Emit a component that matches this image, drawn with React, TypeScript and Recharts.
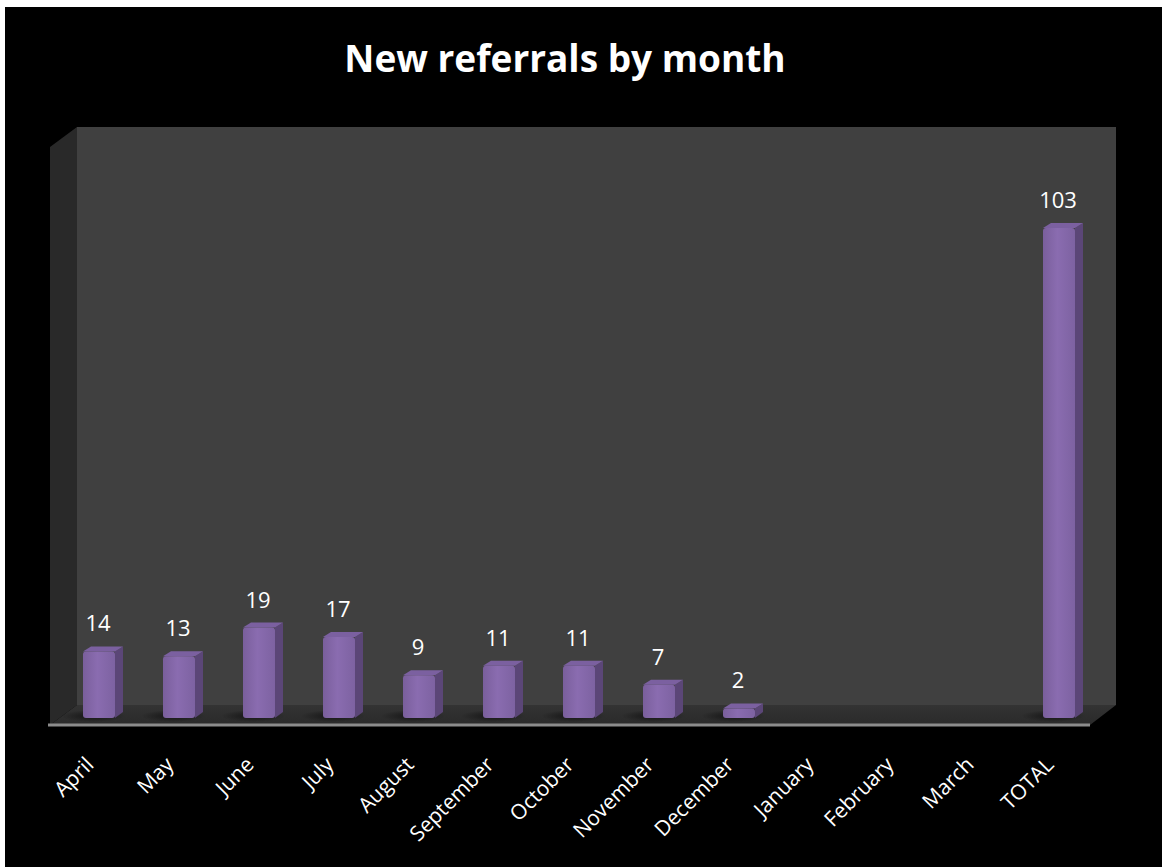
import React from "react";
import { BarChart, Bar, XAxis, YAxis, ReferenceArea, LabelList } from "recharts";

const categories = ["April", "May", "June", "July", "August", "September", "October", "November", "December", "January", "February", "March", "TOTAL"];
const referrals: (number | null)[] = [14, 13, 19, 17, 9, 11, 11, 7, 2, null, null, null, 103];
const yTicks = [0, 20, 40, 60, 80, 100, 120];
const title = "New referrals by month";

const data = categories.map((c, i) => ({ month: c, value: referrals[i] }));

const FONT = "'Open Sans', 'DejaVu Sans', sans-serif";
const DX = 8;
const DY = 5;

const Walls = (props: any) => {
  const { x, y, width, height } = props;
  const px = x, py = y, pw = width, ph = height;
  const bx0 = px + 18, bx1 = px + pw + 17, by0 = py - 20, by1 = py + ph - 13;
  const fx0 = px - 9, fx1 = px + pw - 9, fy = py + ph + 7;
  return (
    <g>
      <defs>
        <linearGradient id="barFront" x1="0" y1="0" x2="1" y2="0">
          <stop offset="0%" stopColor="#7a5f9c" />
          <stop offset="45%" stopColor="#8a6cb0" />
          <stop offset="100%" stopColor="#7d62a1" />
        </linearGradient>
        <linearGradient id="floorGrad" x1="0" y1="0" x2="0" y2="1">
          <stop offset="0%" stopColor="#333333" />
          <stop offset="100%" stopColor="#2a2a2a" />
        </linearGradient>
        <radialGradient id="shadowGrad" cx="0.5" cy="0.5" r="0.5">
          <stop offset="0%" stopColor="#000" stopOpacity="0.55" />
          <stop offset="100%" stopColor="#000" stopOpacity="0" />
        </radialGradient>
      </defs>
      <rect x={bx0} y={by0} width={bx1 - bx0} height={by1 - by0} fill="#404040" />
      <polygon points={`${fx0},${py} ${bx0},${by0} ${bx0},${by1} ${fx0},${fy}`} fill="#292929" />
      <polygon points={`${fx0},${fy} ${bx0},${by1} ${bx1},${by1} ${fx1},${fy}`} fill="url(#floorGrad)" />
      <line x1={fx0 - 2} y1={fy} x2={fx1} y2={fy} stroke="#8c8c8c" strokeWidth={3} />
    </g>
  );
};

const Bar3D = (props: any) => {
  const { x, y, width, height } = props;
  if (height == null || height <= 0 || x == null) return null;
  const r = Math.min(3, height / 2);
  return (
    <g>
      <ellipse cx={x + width / 2 - 6} cy={y + height - 2} rx={width} ry={6} fill="url(#shadowGrad)" />
      <polygon
        points={`${x + width},${y} ${x + width + DX},${y - DY} ${x + width + DX},${y + height - DY - 1} ${x + width},${y + height}`}
        fill="#5b4677"
      />
      <polygon
        points={`${x},${y} ${x + DX},${y - DY} ${x + width + DX},${y - DY} ${x + width},${y}`}
        fill="#7b60a0"
      />
      <rect x={x} y={y} width={width} height={height} rx={r} ry={r} fill="url(#barFront)" />
    </g>
  );
};

const ValueLabel = (props: any) => {
  const { x, y, width, value } = props;
  if (value == null) return null;
  return (
    <text x={x + width / 2 - 1} y={y - 20} textAnchor="middle" fill="#ffffff" fontSize={22} fontFamily={FONT}>
      {value}
    </text>
  );
};

const MonthTick = (props: any) => {
  const { x, y, payload } = props;
  const tx = x - 4;
  const ty = y + 40;
  return (
    <text x={tx} y={ty} transform={`rotate(-45, ${tx}, ${ty})`} textAnchor="end" fill="#ffffff" fontSize={21} fontFamily={FONT}>
      {payload.value}
    </text>
  );
};

export default function App() {
  return (
    <div style={{ position: "absolute", left: 0, top: 0, width: 1162, height: 867, background: "#ffffff", overflow: "hidden" }}>
      <div style={{ position: "absolute", left: 5, top: 7, right: 0, bottom: 0, background: "#000000" }} />
      <div style={{ position: "absolute", left: 0, top: 0 }}>
        <BarChart
          width={1162}
          height={867}
          data={data}
          margin={{ top: 147, left: 59, right: 63, bottom: 49 }}
          barCategoryGap={0}
        >
          <XAxis dataKey="month" height={100} axisLine={false} tickLine={false} tick={<MonthTick />} interval={0} />
          <YAxis hide domain={[0, 120]} ticks={yTicks} />
          <ReferenceArea y1={0} y2={120} ifOverflow="visible" shape={<Walls />} />
          <Bar dataKey="value" barSize={32} isAnimationActive={false} shape={<Bar3D />}>
            <LabelList dataKey="value" content={<ValueLabel />} />
          </Bar>
        </BarChart>
      </div>
      <svg style={{ position: "absolute", left: 0, top: 0 }} width={1162} height={100}>
        <text x={565} y={72} textAnchor="middle" fill="#ffffff" fontSize={37} fontWeight="bold" fontFamily={FONT}>
          {title}
        </text>
      </svg>
    </div>
  );
}
